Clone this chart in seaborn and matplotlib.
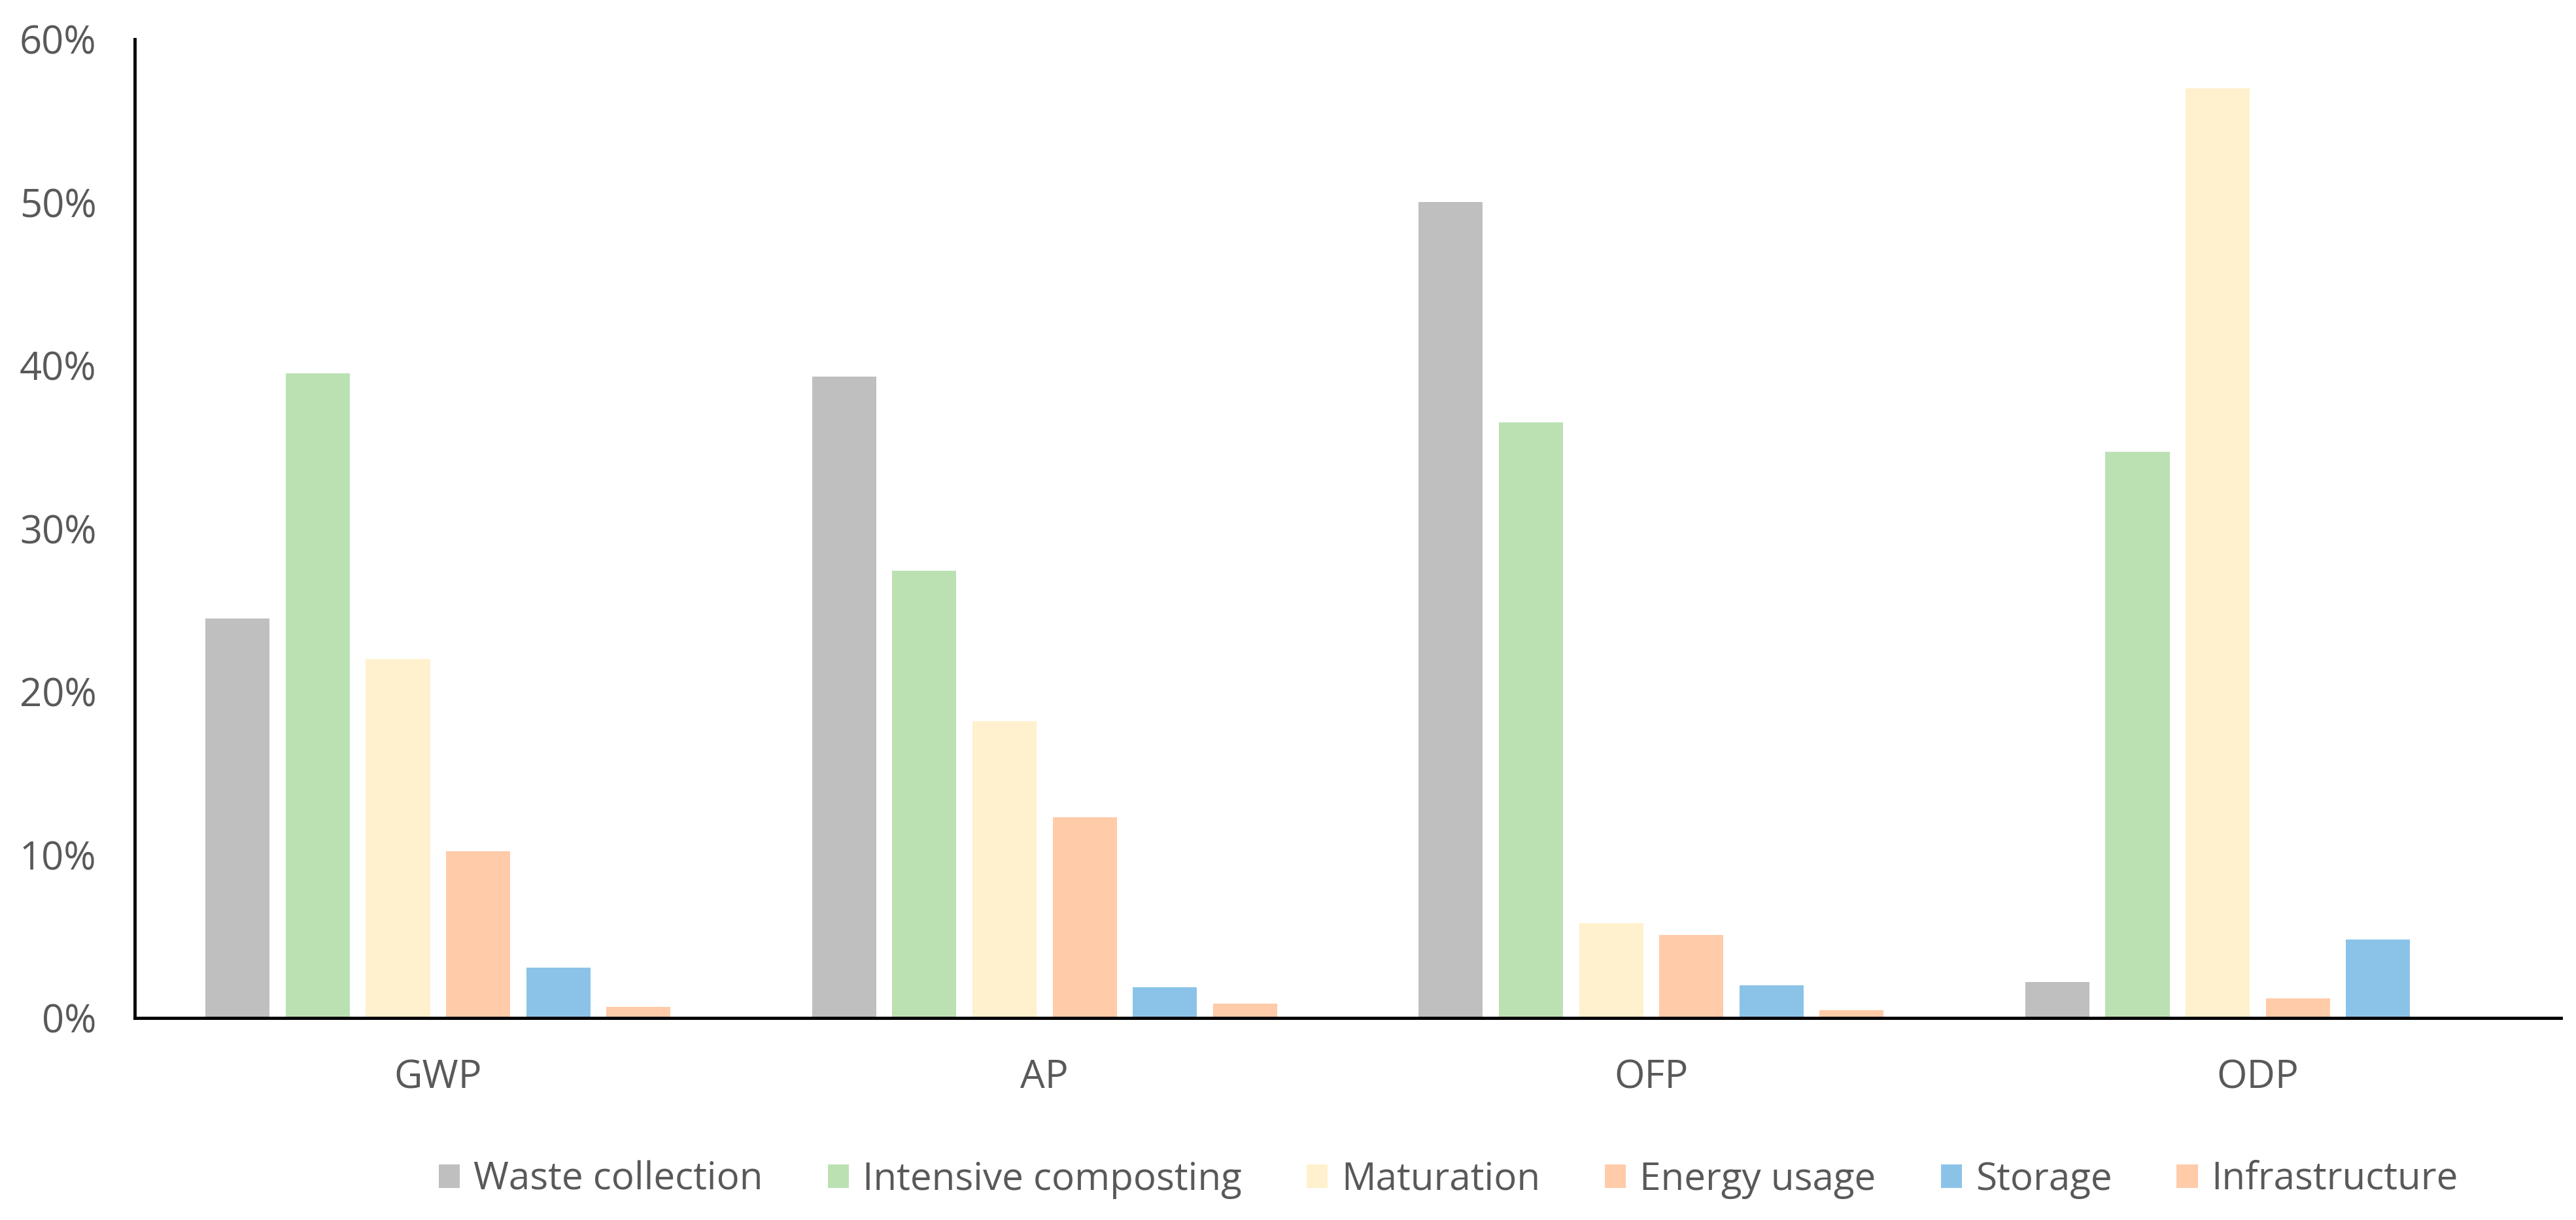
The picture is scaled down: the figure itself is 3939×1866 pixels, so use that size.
import matplotlib
matplotlib.use("Agg")
import matplotlib.pyplot as plt
import seaborn as sns
import pandas as pd
from matplotlib.ticker import PercentFormatter

# 資料
categories = ["GWP", "AP", "OFP", "ODP"]
stages = ["Waste collection", "Intensive composting", "Maturation",
          "Energy usage", "Storage", "Infrastructure"]
waste_collection = [0.245, 0.393, 0.500, 0.022]
intensive_composting = [0.395, 0.274, 0.365, 0.347]
maturation = [0.220, 0.182, 0.058, 0.570]
energy_usage = [0.102, 0.123, 0.051, 0.012]
storage = [0.031, 0.019, 0.020, 0.048]
infrastructure = [0.007, 0.009, 0.005, 0.0]

colors = ["#BFBFBF", "#BBE1B3", "#FFF1CD", "#FFCBA9", "#8BC3E8", "#FFCBA9"]

# 整理成長表
series = [waste_collection, intensive_composting, maturation,
          energy_usage, storage, infrastructure]
rows = []
for stage, values in zip(stages, series):
    for cat, v in zip(categories, values):
        rows.append({"category": cat, "stage": stage, "value": v})
df = pd.DataFrame(rows)

sns.set_style("white")
plt.rcParams["font.family"] = ["Open Sans", "DejaVu Sans"]

fig = plt.figure(figsize=(39.39, 18.66), dpi=100)
ax = fig.add_axes([0.0523, 0.1656, 0.9419, 0.8024])

sns.barplot(data=df, x="category", y="value", hue="stage",
            order=categories, hue_order=stages,
            palette=dict(zip(stages, colors)), saturation=1,
            width=0.793, gap=0.2, errorbar=None, linewidth=0, ax=ax)

ax.set_ylim(0, 0.6)
ax.set_xlim(-0.5, 3.5)
ax.yaxis.set_major_formatter(PercentFormatter(1.0, decimals=0))
ax.set_yticks([0, 0.1, 0.2, 0.3, 0.4, 0.5, 0.6])
ax.set_xlabel("")
ax.set_ylabel("")

ax.tick_params(axis="y", length=0, pad=42, labelsize=43, labelcolor="#595959")
ax.tick_params(axis="x", length=0, pad=44, labelsize=43, labelcolor="#595959")

for side in ["top", "right"]:
    ax.spines[side].set_visible(False)
for side in ["left", "bottom"]:
    ax.spines[side].set_color("black")
    ax.spines[side].set_linewidth(3.5)

# 圖例
ax.legend_.remove()
handles, labels = ax.get_legend_handles_labels()
fig.legend(handles, labels, loc="center", bbox_to_anchor=(0.5623, 0.033),
           ncol=6, frameon=False, fontsize=42, labelcolor="#595959",
           handlelength=0.55, handleheight=0.55, handletextpad=0.36,
           columnspacing=1.7, borderpad=0)

fig.savefig("out.png", dpi=100)
